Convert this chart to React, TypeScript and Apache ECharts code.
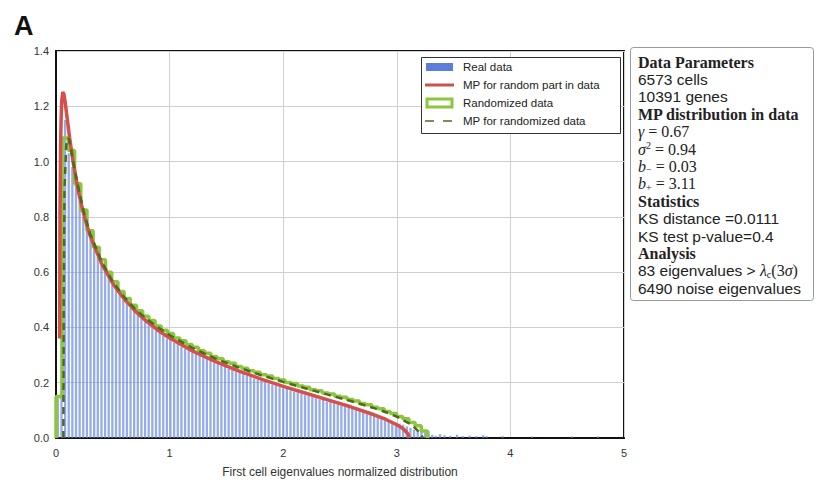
import React, { useEffect, useRef } from "react";
import * as echarts from "echarts";

// ---------- DATA ----------
// Real data histogram (blue bars): equal bins starting at 0
const REAL_BIN_START = 0;
const REAL_BIN_WIDTH = 0.032;
const realHeights = [
  0.15, 0.95, 1.15, 1.03, 0.98, 0.92, 0.86, 0.8, 0.76, 0.72,
  0.69, 0.655, 0.625, 0.6, 0.58, 0.555, 0.54, 0.52, 0.5, 0.49,
  0.47, 0.46, 0.445, 0.435, 0.42, 0.41, 0.4, 0.39, 0.38, 0.37,
  0.36, 0.355, 0.345, 0.34, 0.33, 0.322, 0.318, 0.31, 0.305, 0.3,
  0.292, 0.288, 0.28, 0.272, 0.27, 0.262, 0.258, 0.25, 0.246, 0.24,
  0.236, 0.232, 0.226, 0.222, 0.215, 0.21, 0.207, 0.202, 0.198, 0.192,
  0.19, 0.184, 0.18, 0.178, 0.172, 0.168, 0.165, 0.16, 0.155, 0.152,
  0.148, 0.144, 0.14, 0.138, 0.132, 0.13, 0.125, 0.121, 0.118, 0.113,
  0.11, 0.106, 0.101, 0.097, 0.093, 0.088, 0.085, 0.08, 0.077, 0.072,
  0.068, 0.064, 0.06, 0.056, 0.052, 0.048, 0.042, 0.036, 0.03, 0.026,
  0.03, 0.02, 0.024, 0.012, 0.008,
];
// sparse eigenvalues beyond the bulk
const outlierX = [3.38, 3.42, 3.47, 3.53, 3.58, 3.64, 3.7, 3.76, 3.79, 3.93, 4.19, 4.54, 4.77];
const outlierY = [0.014, 0.01, 0.008, 0.012, 0.007, 0.009, 0.007, 0.01, 0.007, 0.007, 0.006, 0.006, 0.006];

// Randomized data histogram (green step outline)
const RAND_BIN_START = 0;
const RAND_BIN_WIDTH = 0.0545;
const randHeights = [
  0.15, 1.085, 1.04, 0.92, 0.825, 0.75, 0.69, 0.645, 0.6, 0.565,
  0.53, 0.505, 0.48, 0.46, 0.44, 0.425, 0.405, 0.39, 0.378, 0.362,
  0.352, 0.338, 0.328, 0.316, 0.307, 0.295, 0.287, 0.276, 0.27, 0.259,
  0.252, 0.243, 0.238, 0.229, 0.224, 0.215, 0.21, 0.201, 0.197, 0.188,
  0.184, 0.175, 0.171, 0.163, 0.159, 0.151, 0.147, 0.139, 0.134, 0.125,
  0.12, 0.111, 0.106, 0.096, 0.089, 0.078, 0.07, 0.056, 0.044, 0.025,
];

// MP for random part in data (red)
const mpRealX = [0.032, 0.035, 0.04, 0.045, 0.05, 0.06, 0.07, 0.08, 0.1, 0.12, 0.15, 0.2, 0.25, 0.3, 0.4, 0.5, 0.6, 0.7, 0.8, 0.9, 1.0, 1.2, 1.4, 1.6, 1.8, 2.0, 2.2, 2.4, 2.6, 2.8, 2.9, 3.0, 3.05, 3.08, 3.1, 3.108];
const mpRealY = [0.36, 0.8, 1.05, 1.15, 1.218, 1.252, 1.243, 1.217, 1.151, 1.086, 1.0, 0.886, 0.8, 0.732, 0.632, 0.559, 0.503, 0.458, 0.421, 0.389, 0.362, 0.315, 0.277, 0.244, 0.214, 0.187, 0.162, 0.137, 0.112, 0.084, 0.068, 0.048, 0.035, 0.024, 0.013, 0];

// MP for randomized data (dashed dark green)
const mpRandX = [0.065, 0.068, 0.075, 0.09, 0.11, 0.13, 0.15, 0.2, 0.25, 0.3, 0.4, 0.5, 0.6, 0.7, 0.8, 0.9, 1.0, 1.2, 1.4, 1.6, 1.8, 2.0, 2.2, 2.4, 2.6, 2.8, 2.9, 3.0, 3.1, 3.15, 3.2, 3.23];
const mpRandY = [0, 0.5, 0.9, 1.06, 1.085, 1.05, 1.0, 0.9, 0.81, 0.74, 0.64, 0.565, 0.51, 0.465, 0.43, 0.4, 0.372, 0.326, 0.288, 0.256, 0.228, 0.203, 0.179, 0.156, 0.133, 0.108, 0.094, 0.077, 0.055, 0.04, 0.02, 0];

const legendNames = ["Real data", "MP for random part in data", "Randomized data", "MP for randomized data"];

const infoLines = [
  { kind: "head", text: "Data Parameters" },
  { kind: "sans", text: "6573 cells" },
  { kind: "sans", text: "10391 genes" },
  { kind: "head", text: "MP distribution in data" },
  { kind: "math", text: "{i|γ}{n| = 0.67}" },
  { kind: "math", text: "{i|σ}{sup|2}{n| = 0.94}" },
  { kind: "math", text: "{i|b}{sub|−}{n| = 0.03}" },
  { kind: "math", text: "{i|b}{sub|+}{n| = 3.11}" },
  { kind: "head", text: "Statistics" },
  { kind: "sans", text: "KS distance =0.0111" },
  { kind: "sans", text: "KS test p-value=0.4" },
  { kind: "head", text: "Analysis" },
  { kind: "mixed", text: "{s|83 eigenvalues > }{i|λ}{sub|c}{n|(3}{i|σ}{n|)}" },
  { kind: "sans", text: "6490 noise eigenvalues" },
];

export default function App() {
  const ref = useRef<HTMLDivElement>(null);
  useEffect(() => {
    if (!ref.current) return;
    const chart = echarts.init(ref.current, null, { renderer: "svg" });

    const realData = realHeights.map((h, i) => [REAL_BIN_START + REAL_BIN_WIDTH * (i + 0.5), h]);
    outlierX.forEach((x, i) => realData.push([x, outlierY[i]]));

    const randStep: number[][] = [[RAND_BIN_START, 0]];
    randHeights.forEach((h, i) => randStep.push([RAND_BIN_START + RAND_BIN_WIDTH * i, h]));
    randStep.push([RAND_BIN_START + RAND_BIN_WIDTH * randHeights.length, 0]);

    const mpReal = mpRealX.map((x, i) => [x, mpRealY[i]]);
    const mpRand = mpRandX.map((x, i) => [x, mpRandY[i]]);

    const sans = "Liberation Sans, Arial, sans-serif";
    const serif = "Liberation Serif, DejaVu Serif, serif";

    const rich = {
      i: { fontFamily: serif, fontStyle: "italic", fontSize: 16, lineHeight: 17, fill: "#222" },
      n: { fontFamily: serif, fontSize: 16, lineHeight: 17, fill: "#222" },
      s: { fontFamily: sans, fontSize: 15.5, lineHeight: 17, fill: "#222" },
      sup: { fontFamily: serif, fontSize: 10, lineHeight: 9, verticalAlign: "top", fill: "#222" },
      sub: { fontFamily: serif, fontSize: 10, lineHeight: 10, verticalAlign: "bottom", fill: "#222" },
    };

    const infoEls: any[] = infoLines.map((ln, k) => {
      const y = 62 + k * 17.4;
      if (ln.kind === "head") {
        return { type: "text", z: 100, x: 638, y, style: { text: ln.text, font: `bold 16px ${serif}`, fill: "#222", verticalAlign: "middle" } };
      }
      if (ln.kind === "sans") {
        return { type: "text", z: 100, x: 638, y, style: { text: ln.text, font: `15.5px ${sans}`, fill: "#222", verticalAlign: "middle" } };
      }
      return { type: "text", z: 100, x: 638, y, style: { text: ln.text, rich, verticalAlign: "middle", fill: "#222" } };
    });

    const lx = 425;
    const legendEls: any[] = [
      { type: "rect", z: 100, shape: { x: 421.5, y: 57.5, width: 199, height: 76 }, style: { fill: "#fff", stroke: "#333", lineWidth: 1 } },
      { type: "rect", z: 101, shape: { x: lx + 1, y: 63, width: 27, height: 8 }, style: { fill: "#5b7fd9" } },
      { type: "line", z: 101, shape: { x1: lx, y1: 85, x2: lx + 29, y2: 85 }, style: { stroke: "#d0504a", lineWidth: 3 } },
      { type: "rect", z: 101, shape: { x: lx + 2, y: 99, width: 25, height: 8 }, style: { fill: "#fff", stroke: "#8cc63f", lineWidth: 3 } },
      { type: "line", z: 101, shape: { x1: lx, y1: 121, x2: lx + 28, y2: 121 }, style: { stroke: "#4e6b1c", lineWidth: 1.5, lineDash: [9, 9] } },
    ];
    legendNames.forEach((nm, k) => {
      legendEls.push({ type: "text", z: 101, x: 463, y: 67 + k * 18, style: { text: nm, font: `11.5px ${sans}`, fill: "#222", verticalAlign: "middle" } });
    });

    chart.setOption({
      animation: false,
      backgroundColor: "#fff",
      grid: { left: 56, top: 51, width: 568, height: 387, show: true, borderColor: "#111", borderWidth: 2, containLabel: false },
      xAxis: {
        type: "value",
        min: 0,
        max: 5,
        interval: 1,
        name: "First cell eigenvalues normalized distribution",
        nameLocation: "middle",
        nameGap: 28,
        nameTextStyle: { fontFamily: sans, fontSize: 12, color: "#333" },
        axisLine: { show: true, lineStyle: { color: "#111", width: 2 } },
        axisTick: { show: false },
        axisLabel: { fontFamily: sans, fontSize: 11, color: "#333", margin: 9 },
        splitLine: { show: true, lineStyle: { color: "#d0d0d0", width: 1 } },
      },
      yAxis: {
        type: "value",
        min: 0,
        max: 1.4,
        interval: 0.2,
        axisLine: { show: true, lineStyle: { color: "#111", width: 2 } },
        axisTick: { show: false },
        axisLabel: { fontFamily: sans, fontSize: 11, color: "#333", margin: 7, formatter: (v: number) => v.toFixed(1) },
        splitLine: { show: true, lineStyle: { color: "#d0d0d0", width: 1 } },
      },
      series: [
        {
          name: "Real data",
          type: "bar",
          data: realData,
          barWidth: 2.3,
          itemStyle: { color: "rgba(100,132,222,0.68)" },
          silent: true,
        },
        {
          name: "Randomized data",
          type: "line",
          data: randStep,
          step: "end",
          showSymbol: false,
          lineStyle: { color: "#8cc63f", width: 3.5 },
          silent: true,
        },
        {
          name: "MP for random part in data",
          type: "line",
          data: mpReal,
          showSymbol: false,
          lineStyle: { color: "#d4504a", width: 3.5 },
          silent: true,
        },
        {
          name: "MP for randomized data",
          type: "line",
          data: mpRand,
          showSymbol: false,
          lineStyle: { color: "#4e6b1c", width: 2.5, type: [7, 5] },
          silent: true,
        },
      ],
      graphic: [
        { type: "text", z: 100, x: 14, y: 12, style: { text: "A", font: `bold 27px ${sans}`, fill: "#111" } },
        { type: "rect", z: 99, shape: { x: 630.5, y: 47.5, width: 183, height: 253, r: 3 }, style: { fill: "#fff", stroke: "#999", lineWidth: 1 } },
        ...infoEls,
        ...legendEls,
      ],
    });
    return () => chart.dispose();
  }, []);
  return <div ref={ref} style={{ position: "fixed", left: 0, top: 0, width: 820, height: 484, background: "#fff" }} />;
}
